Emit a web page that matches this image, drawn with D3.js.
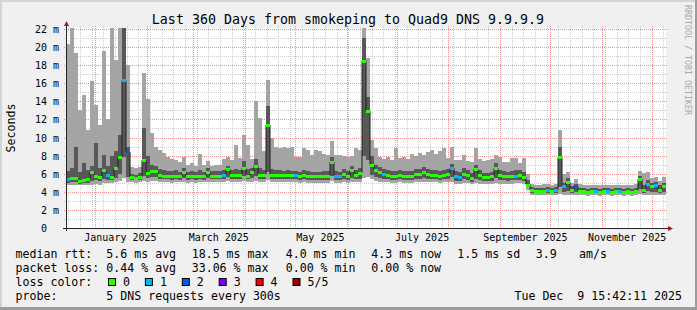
<!DOCTYPE html>
<meta charset="utf-8">
<head>
<style>
  body { margin: 0; background: #f0f0f0; }
  text { font-family: "DejaVu Sans Mono", monospace; white-space: pre; fill: #000; }
</style>
</head>

<!-- Load d3.js -->
<script src="https://d3js.org/d3.v7.min.js"></script>

<body>
  <div id="my_dataviz"></div>
</body>

<script>

  // time span of the graph
  const endTime = new Date(2025, 11, 9, 15, 42, 11);
  const startTime = d3.timeDay.offset(endTime, -360);
  const stepDays = 2.4; // one sample per 2.4 days

  // median rtt (ms) per sample
  const medianRtt = [
    5.4,5.5,5.5,5.2,5.3,5.4,6.2,5.8,5.6,6.4, 5.9,5.6,6.6,7.8,16.3,8.4,5.6,5.5,5.6,7.5,
    6.1,6.3,6.3,5.9,5.8,5.8,5.7,5.8,5.7,6.2, 5.7,5.8,5.7,5.8,5.7,6.2,5.8,5.8,5.8,5.9,
    6.5,5.9,5.9,5.9,6.6,5.8,6.2,6.9,5.9,5.9, 11.4,5.9,5.9,5.9,5.9,5.9,5.9,5.9,5.7,5.9,
    5.8,5.8,5.7,5.7,5.8,5.8,7.3,5.8,5.7,6.0, 5.8,6.4,5.9,6.1,18.5,12.9,7.0,6.4,6.2,6.0,
    5.9,5.8,5.8,5.9,5.8,5.8,5.8,6.0,6.0,6.2, 6.0,5.9,5.9,5.8,5.9,6.0,6.6,5.7,5.6,6.0,
    5.9,5.5,6.5,5.9,5.6,5.6,5.7,6.6,5.9,5.8, 5.7,5.8,5.8,5.9,5.6,4.8,4.2,4.1,4.1,4.1,
    4.2,4.1,4.2,7.8,4.6,5.1,4.2,4.6,4.1,4.1, 4.0,4.1,4.1,4.0,4.1,4.1,4.0,4.1,4.1,4.0,
    4.1,4.0,4.1,5.4,4.2,4.9,4.6,4.7,4.2,4.6
  ];
  // lowest of the 5 pings
  const pingMin = [
    4.7,4.7,4.8,4.7,4.7,4.7,4.8,4.9,4.8,5.0, 5.0,5.0,5.1,5.2,5.5,5.1,5.1,5.0,5.1,5.2,
    5.1,5.2,5.2,5.1,5.1,5.1,5.0,5.1,5.1,5.1, 5.0,5.1,5.0,5.1,5.1,5.1,5.1,5.1,5.1,5.1,
    5.2,5.1,5.1,5.1,5.2,5.1,5.1,5.2,5.1,5.1, 5.3,5.1,5.1,5.1,5.1,5.1,5.1,5.1,5.0,5.1,
    5.0,5.0,5.0,5.0,5.0,5.0,5.2,5.0,5.0,5.1, 5.0,5.1,5.1,5.1,5.5,5.6,5.4,5.2,5.1,5.1,
    5.1,5.0,5.0,5.1,5.0,5.0,5.0,5.1,5.1,5.1, 5.1,5.1,5.1,5.0,5.1,5.1,5.1,4.9,4.9,5.0,
    5.0,4.9,5.0,4.9,4.9,4.9,4.9,5.0,4.9,4.9, 4.9,4.9,5.0,5.0,4.9,4.2,3.6,3.6,3.6,3.6,
    3.6,3.6,3.6,3.8,3.7,3.7,3.6,3.7,3.6,3.6, 3.5,3.6,3.6,3.5,3.6,3.6,3.5,3.6,3.6,3.5,
    3.6,3.5,3.6,3.8,3.6,3.7,3.7,3.7,3.6,3.7
  ];
  // second lowest ping
  const pingLow = [
    5.0,5.1,5.1,4.9,5.0,5.0,5.2,5.3,5.2,5.4, 5.3,5.3,5.5,6.0,7.8,5.6,5.3,5.3,5.3,5.8,
    5.5,5.6,5.6,5.4,5.4,5.4,5.3,5.4,5.3,5.5, 5.3,5.4,5.3,5.4,5.3,5.5,5.4,5.4,5.4,5.4,
    5.6,5.4,5.4,5.4,5.7,5.4,5.5,5.8,5.4,5.4, 6.2,5.4,5.4,5.4,5.4,5.4,5.4,5.4,5.3,5.4,
    5.3,5.3,5.3,5.3,5.3,5.3,5.8,5.3,5.3,5.4, 5.3,5.5,5.4,5.4,8.0,7.5,5.9,5.6,5.5,5.4,
    5.4,5.3,5.3,5.4,5.3,5.3,5.3,5.4,5.4,5.5, 5.4,5.4,5.4,5.3,5.4,5.4,5.6,5.2,5.2,5.4,
    5.3,5.1,5.4,5.3,5.2,5.2,5.2,5.5,5.3,5.3, 5.2,5.3,5.3,5.3,5.2,4.5,3.9,3.9,3.9,3.9,
    3.9,3.9,3.9,4.5,4.0,4.1,3.9,4.0,3.9,3.9, 3.8,3.9,3.9,3.8,3.9,3.9,3.8,3.9,3.9,3.8,
    3.9,3.8,3.9,4.3,3.9,4.1,4.0,4.0,3.9,4.0
  ];
  // second highest ping
  const pingHigh = [
    6.3,6.6,9.0,6.2,7.2,6.4,6.9,9.4,6.6,8.1, 6.8,8.0,8.5,10.3,22.1,9.0,6.0,5.9,6.1,11.0,
    8.0,7.0,6.8,6.5,6.4,6.3,6.3,6.4,6.2,6.6, 6.2,6.3,6.2,6.4,6.2,6.6,6.3,6.3,6.3,6.4,
    6.9,6.4,6.5,6.4,7.4,6.5,6.6,7.6,6.6,6.4, 13.5,6.5,6.4,6.4,6.3,6.4,6.3,6.3,6.2,6.4,
    6.3,6.2,6.2,6.2,6.3,6.3,7.8,6.3,6.2,6.5, 6.3,6.8,6.4,6.6,21.0,14.5,8.0,7.0,6.7,6.5,
    6.4,6.3,6.3,6.4,6.3,6.3,6.3,6.5,6.5,6.7, 6.5,6.4,6.4,6.3,6.4,6.5,7.1,6.3,6.2,6.6,
    6.4,6.1,7.0,6.4,6.1,6.1,6.2,7.2,6.4,6.3, 6.2,6.3,6.4,6.4,6.2,5.3,4.5,4.4,4.4,4.4,
    4.5,4.4,4.5,9.0,5.0,5.5,4.6,4.9,4.4,4.4, 4.3,4.4,4.4,4.3,4.4,4.4,4.3,4.4,4.4,4.3,
    4.4,4.3,4.4,5.7,4.8,5.3,5.0,5.1,4.7,5.0
  ];
  // highest ping
  const pingMax = [
    20.3,22.1,19.3,13.0,14.7,10.8,16.2,13.6,11.4,19.6, 12.0,22.1,18.6,22.1,22.1,18.0,6.7,6.6,6.7,17.1,
    14.2,10.5,9.0,8.6,8.3,7.9,7.6,7.5,7.3,7.8, 7.0,7.2,6.8,8.2,7.0,7.4,6.9,7.0,7.0,7.6,
    7.9,7.5,9.2,7.7,10.3,9.2,7.6,14.0,12.1,8.5, 16.4,10.0,9.0,8.8,9.0,8.8,8.9,7.9,7.9,8.8,
    8.6,8.1,8.6,8.5,8.2,8.1,9.6,8.1,8.1,8.0, 7.9,8.0,8.8,8.6,22.1,18.8,9.7,8.8,7.8,7.6,
    7.8,7.5,8.8,7.7,7.9,7.6,8.2,8.0,8.3,8.1, 8.4,8.6,8.2,8.5,8.8,7.7,9.0,7.5,7.5,8.1,
    7.4,7.3,8.8,7.6,7.4,7.5,7.6,8.1,7.9,7.3, 7.3,7.7,7.7,7.2,7.7,6.0,4.9,4.7,4.7,4.9,
    4.9,4.8,4.9,10.8,6.0,6.2,5.0,5.4,4.9,4.8, 4.7,4.8,4.7,4.7,4.8,4.7,4.7,4.8,4.7,4.7,
    4.7,4.7,4.9,6.3,6.1,6.2,5.5,5.6,5.2,5.6
  ];
  // packet loss level of each sample (index into lossColors)
  const lossLevel = [
    1,0,0,0,0,0,0,0,0,0, 1,0,0,0,1,2,0,0,0,0,
    0,0,0,0,0,0,0,0,0,0, 0,0,0,0,0,0,0,0,0,1,
    0,0,0,0,0,0,0,0,0,0, 0,0,0,0,0,0,0,1,0,0,
    0,0,0,0,0,0,0,1,1,0, 0,0,0,0,0,0,0,0,0,1,
    0,0,0,0,0,0,0,0,0,0, 0,0,0,0,0,0,1,1,1,0,
    0,0,0,0,0,0,0,0,0,0, 0,0,1,0,0,0,0,0,0,0,
    1,0,1,0,1,0,0,2,0,0, 0,0,1,0,0,1,0,0,1,0,
    0,0,0,0,0,1,0,1,0,0
  ];

  const lossColors = ["#26ff00", "#00b8ff", "#0059ff", "#7e00ff", "#ff0000", "#a10000"];
  const lossLabels = ["0", "1", "2", "3", "4", "5/5"];

  // axis labels
  const yTickValues = [0, 2, 4, 6, 8, 10, 12, 14, 16, 18, 20, 22];
  const yTickLabels = ["0  ", "2 m", "4 m", "6 m", "8 m", "10 m", "12 m", "14 m", "16 m", "18 m", "20 m", "22 m"];
  const monthLabelDates = [new Date(2025, 0, 16), new Date(2025, 2, 16), new Date(2025, 4, 16),
                           new Date(2025, 6, 16), new Date(2025, 8, 16), new Date(2025, 10, 16)];
  const monthLabels = ["January 2025", "March 2025", "May 2025", "July 2025", "September 2025", "November 2025"];

  // legend texts
  const rttStats = ["5.6 ms avg", "18.5 ms max", "4.0 ms min", "4.3 ms now", "1.5 ms sd", "3.9", "am/s"];
  const lossStats = ["0.44 % avg", "33.06 % max", "0.00 % min", "0.00 % now"];

  // ---------------------------------------------------------------------------

  const W = 697, H = 310;
  const x0 = 66, x1 = 666, yTop = 28, yBot = 228;

  const svg = d3.select("#my_dataviz")
    .append("svg")
      .attr("width", W)
      .attr("height", H)
      .style("display", "block");

  // background + 3d frame
  svg.append("rect").attr("width", W).attr("height", H).attr("fill", "#f0f0f0");
  svg.append("rect").attr("x", 0).attr("y", 0).attr("width", W).attr("height", 2).attr("fill", "#d4d4d4");
  svg.append("rect").attr("x", 0).attr("y", 0).attr("width", 2).attr("height", H).attr("fill", "#d4d4d4");
  svg.append("rect").attr("x", 0).attr("y", H - 3).attr("width", W).attr("height", 3).attr("fill", "#9c9c9c");
  svg.append("rect").attr("x", W - 2).attr("y", 0).attr("width", 2).attr("height", H).attr("fill", "#9c9c9c");

  // canvas
  svg.append("rect").attr("x", x0).attr("y", yTop).attr("width", x1 - x0).attr("height", yBot - yTop).attr("fill", "#ffffff");

  const x = d3.scaleTime().domain([startTime, endTime]).range([x0, x1]);
  const y = d3.scaleLinear().domain([0, 22.1]).range([yBot, yTop]);

  const samples = medianRtt.map(function(m, i) {
    return {
      t: new Date(+startTime + i * stepDays * 864e5),
      t2: new Date(+startTime + (i + 1) * stepDays * 864e5),
      med: m, p1: pingMin[i], p2: pingLow[i], p4: pingHigh[i], p5: pingMax[i], loss: lossLevel[i]
    };
  });

  // grid (behind the graph), runs 2px past the canvas like rrdtool does
  const grid = svg.append("g");
  const crisp = v => Math.round(v) + 0.5;

  d3.timeMonday.range(startTime, endTime).forEach(function(d) {
    grid.append("line")
      .attr("x1", crisp(x(d))).attr("x2", crisp(x(d)))
      .attr("y1", yTop - 2).attr("y2", yBot + 2)
      .attr("stroke", "#cccccc").attr("stroke-dasharray", "1,1");
  });
  d3.range(1, 23).filter(v => v % 2).forEach(function(v) {
    grid.append("line")
      .attr("x1", x0 - 2).attr("x2", x1 + 2)
      .attr("y1", crisp(y(v))).attr("y2", crisp(y(v)))
      .attr("stroke", "#cccccc").attr("stroke-dasharray", "1,1");
  });
  d3.timeMonth.range(startTime, endTime).forEach(function(d) {
    grid.append("line")
      .attr("x1", crisp(x(d))).attr("x2", crisp(x(d)))
      .attr("y1", yTop - 2).attr("y2", yBot + 2)
      .attr("stroke", "#f09090").attr("stroke-dasharray", "1,1");
  });
  yTickValues.filter(v => v > 0).forEach(function(v) {
    grid.append("line")
      .attr("x1", x0 - 2).attr("x2", x1 + 2)
      .attr("y1", crisp(y(v))).attr("y2", crisp(y(v)))
      .attr("stroke", "#f09090").attr("stroke-dasharray", "1,1");
  });

  // smoke
  svg.append("clipPath").attr("id", "plotclip")
    .append("rect").attr("x", x0).attr("y", yTop).attr("width", x1 - x0).attr("height", yBot - yTop);

  const plot = svg.append("g").attr("clip-path", "url(#plotclip)");

  plot.selectAll(".smoke1")
    .data(samples)
    .enter()
    .append("rect")
      .attr("x", d => x(d.t))
      .attr("width", d => x(d.t2) - x(d.t))
      .attr("y", d => y(d.p5))
      .attr("height", d => y(d.p1) - y(d.p5))
      .attr("fill", "#a4a4a4")
      .attr("shape-rendering", "crispEdges");

  plot.selectAll(".smoke2")
    .data(samples)
    .enter()
    .append("rect")
      .attr("x", d => x(d.t))
      .attr("width", d => x(d.t2) - x(d.t))
      .attr("y", d => y(d.p4))
      .attr("height", d => y(d.p2) - y(d.p4))
      .attr("fill", "#585858")
      .attr("shape-rendering", "crispEdges");

  // median: dark line, then loss-coloured band on top
  const medLine = d3.line()
    .x(d => x(d.t))
    .y(d => y(d.med))
    .curve(d3.curveStepAfter);

  plot.append("path")
    .datum(samples.concat([{ t: endTime, med: medianRtt[medianRtt.length - 1] }]))
    .attr("d", medLine)
    .attr("fill", "none")
    .attr("stroke", "#202020")
    .attr("stroke-width", 1);

  plot.selectAll(".med")
    .data(samples)
    .enter()
    .append("rect")
      .attr("x", d => x(d.t))
      .attr("width", d => x(d.t2) - x(d.t))
      .attr("y", d => Math.round(y(d.med)) - 1)
      .attr("height", 3)
      .attr("fill", d => lossColors[d.loss])
      .attr("shape-rendering", "crispEdges");

  // axes
  const xAxis = svg.append("g")
    .attr("transform", "translate(0," + yBot + ")")
    .call(d3.axisBottom(x).tickValues(monthLabelDates).tickFormat((d, i) => monthLabels[i]).tickSize(0));
  xAxis.select(".domain").remove();
  xAxis.selectAll("text")
    .attr("y", 12.5).attr("dy", 0)
    .style("font-family", "DejaVu Sans Mono").style("font-size", "10px").attr("fill", "#000");

  const yAxis = svg.append("g")
    .attr("transform", "translate(" + x0 + ",0)")
    .call(d3.axisLeft(y).tickValues(yTickValues).tickFormat((d, i) => yTickLabels[i]).tickSize(0).tickPadding(7));
  yAxis.select(".domain").remove();
  yAxis.selectAll("text")
    .attr("dy", 3.5)
    .style("font-family", "DejaVu Sans Mono").style("font-size", "10px").attr("fill", "#000");

  // axis lines and arrows
  svg.append("line").attr("x1", x0 - 3).attr("x2", x1 + 3).attr("y1", yBot + 0.5).attr("y2", yBot + 0.5)
    .attr("stroke", "#222222");
  svg.append("line").attr("x1", x0 + 0.5).attr("x2", x0 + 0.5).attr("y1", yBot + 3).attr("y2", yTop - 3)
    .attr("stroke", "#222222");
  svg.append("path").attr("d", "M" + (x0 - 2) + "," + (yTop - 2) + "L" + (x0 + 3) + "," + (yTop - 2) + "L" + (x0 + 0.5) + "," + (yTop - 7) + "Z")
    .attr("fill", "#a01818");
  svg.append("path").attr("d", "M" + (x1 + 2) + "," + (yBot - 2) + "L" + (x1 + 2) + "," + (yBot + 3) + "L" + (x1 + 7) + "," + (yBot + 0.5) + "Z")
    .attr("fill", "#a01818");

  // title
  svg.append("text")
    .attr("x", 348).attr("y", 24)
    .style("text-anchor", "middle").style("font-size", "13.3px")
    .text("Last 360 Days from smokeping to Quad9 DNS 9.9.9.9");

  // y axis title
  svg.append("text")
    .attr("transform", "translate(15,128) rotate(-90)")
    .style("text-anchor", "middle").style("font-size", "11.6px")
    .text("Seconds");

  // watermark
  svg.append("text")
    .attr("transform", "translate(685,5) rotate(90)")
    .style("font-size", "8.3px").style("fill", "#a8a8a8")
    .text("RRDTOOL / TOBI OETIKER");

  // legend
  const legend = svg.append("g").style("font-size", "11.6px");
  const statX = [106.3, 191.7, 285.7, 371.3, 457.3, 535.7, 579];

  legend.append("text").attr("x", 15.5).attr("y", 258).text("median rtt:");
  rttStats.forEach(function(s, i) {
    legend.append("text").attr("x", statX[i]).attr("y", 258).text(s);
  });

  legend.append("text").attr("x", 15.5).attr("y", 271.5).text("packet loss:");
  lossStats.forEach(function(s, i) {
    legend.append("text").attr("x", statX[i]).attr("y", 271.5).text(s);
  });

  legend.append("text").attr("x", 15.5).attr("y", 285.5).text("loss color:");
  lossColors.forEach(function(c, i) {
    legend.append("rect")
      .attr("x", 108.5 + i * 36.9).attr("y", 278.5).attr("width", 7).attr("height", 7)
      .attr("fill", c).attr("stroke", "#000").attr("stroke-width", 1);
    legend.append("text").attr("x", 123 + i * 36.9).attr("y", 285.5).text(lossLabels[i]);
  });

  legend.append("text").attr("x", 15.5).attr("y", 299.5).text("probe:");
  legend.append("text").attr("x", 106.3).attr("y", 299.5).text("5 DNS requests every 300s");
  legend.append("text").attr("x", 682).attr("y", 299.5).style("text-anchor", "end")
    .text("Tue Dec  9 15:42:11 2025");

</script>
